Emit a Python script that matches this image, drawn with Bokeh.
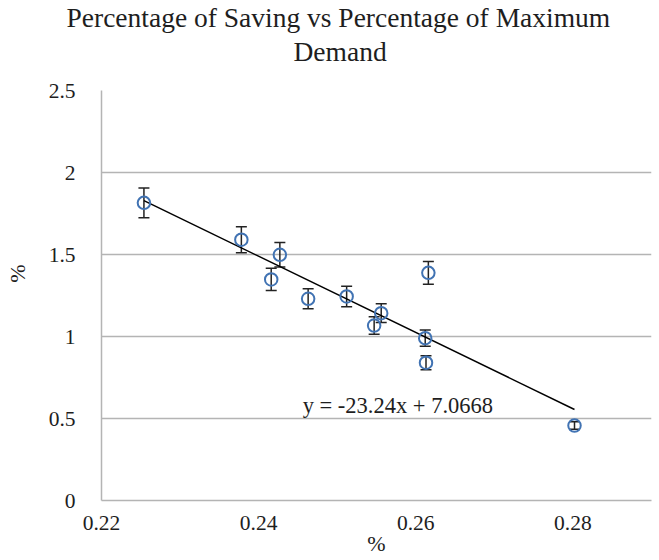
from bokeh.plotting import figure, ColumnDataSource
from bokeh.models import Label, Range1d, FixedTicker, Whisker, TeeHead, Title
from bokeh.embed import file_html
from bokeh.resources import INLINE

# Percentage of maximum demand (x) vs percentage of saving (y)
max_demand_pct = [0.2254, 0.2378, 0.2427, 0.2416, 0.2463, 0.2512,
                  0.2556, 0.2547, 0.2616, 0.2612, 0.2613, 0.2802]
saving_pct = [1.815, 1.590, 1.498, 1.348, 1.230, 1.244,
              1.142, 1.067, 1.388, 0.990, 0.840, 0.457]

# Error bars are a fixed percentage of each value
error_pct = 0.05

# Linear trendline coefficients
slope = -23.24
intercept = 7.0668

x_ticks = [0.22, 0.24, 0.26, 0.28]
x_tick_labels = ["0.22", "0.24", "0.26", "0.28"]
y_ticks = [0, 0.5, 1, 1.5, 2, 2.5]
y_tick_labels = ["0", "0.5", "1", "1.5", "2", "2.5"]

title_lines = ["Percentage of Saving vs Percentage of  Maximum", "Demand"]
FONT = "Liberation Serif"
TEXT = "#1E1E1E"
MARKER_BLUE = "#4173B3"
GRID_GRAY = "#B4B4B4"

W, H = 659, 560
p = figure(width=W, height=H, output_backend="svg", toolbar_location=None,
           x_range=Range1d(0.22, 0.29), y_range=Range1d(0, 2.5),
           min_border_left=101, min_border_right=8,
           min_border_top=90, min_border_bottom=60)
p.outline_line_color = None
p.background_fill_color = "white"
p.border_fill_color = "white"

for ax in (p.xaxis[0], p.yaxis[0]):
    ax.axis_line_color = GRID_GRAY
    ax.axis_line_width = 1.5
    ax.major_tick_line_color = None
    ax.minor_tick_line_color = None
    ax.major_label_text_font = FONT
    ax.major_label_text_font_size = "21.5px"
    ax.major_label_text_color = TEXT
    ax.axis_label_text_font = FONT
    ax.axis_label_text_font_size = "22px"
    ax.axis_label_text_font_style = "normal"
    ax.axis_label_text_color = TEXT

p.xaxis.ticker = FixedTicker(ticks=x_ticks)
p.xaxis.major_label_overrides = dict(zip(x_ticks, x_tick_labels))
p.xaxis.major_label_standoff = 9
p.xaxis.axis_label = "%"
p.xaxis.axis_label_standoff = -2

p.yaxis.ticker = FixedTicker(ticks=y_ticks)
p.yaxis.major_label_overrides = dict(zip(y_ticks, y_tick_labels))
p.yaxis.major_label_standoff = 20
# leading em spaces lift the rotated title a little above the frame centre
p.yaxis.axis_label = "\u2003\u2003%"
p.yaxis.axis_label_standoff = 16

p.xgrid.grid_line_color = None
p.ygrid.ticker = FixedTicker(ticks=y_ticks)
p.ygrid.grid_line_color = GRID_GRAY
p.ygrid.grid_line_width = 1.5

src = ColumnDataSource(dict(
    x=max_demand_pct,
    y=saving_pct,
    lower=[v * (1 - error_pct) for v in saving_pct],
    upper=[v * (1 + error_pct) for v in saving_pct],
))

# Trendline across the observed x span
x_lo, x_hi = min(max_demand_pct), max(max_demand_pct)
p.line([x_lo, x_hi], [slope * x_lo + intercept, slope * x_hi + intercept],
       line_color="black", line_width=1.5)

whisk = Whisker(source=src, base="x", lower="lower", upper="upper",
                line_color="#222222", line_width=1.5,
                lower_head=TeeHead(size=11, line_color="#222222", line_width=1.5),
                upper_head=TeeHead(size=11, line_color="#222222", line_width=1.5))
p.add_layout(whisk)

p.scatter("x", "y", source=src, marker="circle", size=12.5,
          fill_color=None, line_color=MARKER_BLUE, line_width=2)

eq_text = f"y = {slope}x + {intercept}"
p.add_layout(Label(x=0.2456, y=0.58, text=eq_text, text_font=FONT,
                   text_font_size="22.5px", text_color=TEXT,
                   text_baseline="alphabetic"))

# Two-line chart title, centred a little left of the frame centre;
# the later Title sits further from the frame
p.add_layout(Title(text=title_lines[1], align="left", offset=192, standoff=47,
                   text_font=FONT, text_font_size="27.5px",
                   text_font_style="normal", text_color=TEXT), "above")
p.add_layout(Title(text=title_lines[0], align="left", offset=-35, standoff=-44,
                   text_font=FONT, text_font_size="27.5px",
                   text_font_style="normal", text_color=TEXT), "above")

open("out.html", "w").write(file_html(p, INLINE))
